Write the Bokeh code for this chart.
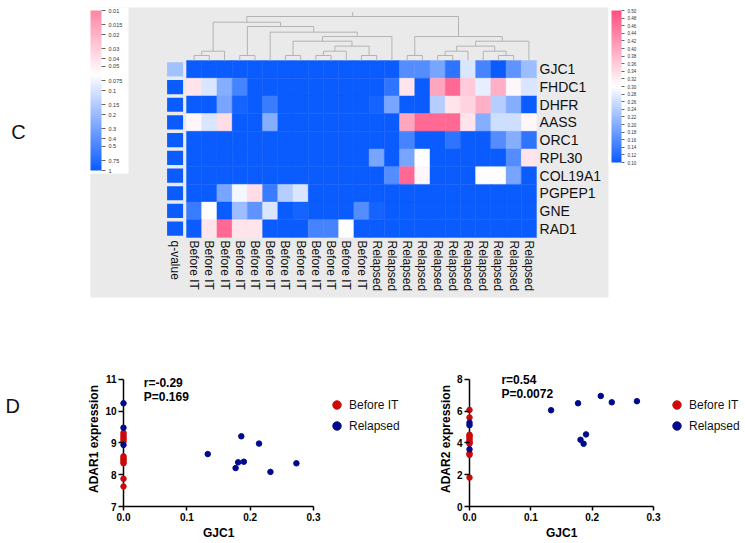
import numpy as np
from bokeh.plotting import figure
from bokeh.layouts import column, row
from bokeh.models import (Range1d, LinearColorMapper, ColorBar, FixedTicker,
                          PrintfTickFormatter, CustomJSTickFormatter, BoxAnnotation,
                          Label, Legend, LegendItem, ColumnDataSource, AllLabels)
from bokeh.core.properties import value
from bokeh.embed import file_html
from bokeh.resources import INLINE

FONT = "Liberation Sans"

# ---------------- data: heatmap (C) ----------------
genes = ["GJC1", "FHDC1", "DHFR", "AASS", "ORC1", "RPL30", "COL19A1", "PGPEP1", "GNE", "RAD1"]
samples = ["Before IT"] * 12 + ["Relapsed"] * 11
q_values = [0.18, 1, 1, 1, 1, 1, 1, 1, 1, 1]
row_gjc1    = [0.10, 0.10, 0.10, 0.10, 0.10, 0.10, 0.10, 0.10, 0.10, 0.10, 0.10, 0.10, 0.10, 0.10, 0.16, 0.16, 0.19, 0.13, 0.27, 0.15, 0.10, 0.17, 0.22]
row_fhdc1   = [0.33, 0.27, 0.20, 0.15, 0.10, 0.10, 0.10, 0.10, 0.10, 0.10, 0.10, 0.10, 0.10, 0.13, 0.33, 0.10, 0.40, 0.47, 0.36, 0.28, 0.39, 0.31, 0.27]
row_dhfr    = [0.10, 0.10, 0.19, 0.11, 0.10, 0.14, 0.10, 0.10, 0.10, 0.10, 0.10, 0.10, 0.11, 0.19, 0.10, 0.10, 0.24, 0.33, 0.35, 0.39, 0.24, 0.20, 0.10]
row_aass    = [0.31, 0.27, 0.34, 0.10, 0.10, 0.20, 0.10, 0.10, 0.10, 0.10, 0.10, 0.10, 0.10, 0.10, 0.40, 0.47, 0.47, 0.47, 0.33, 0.20, 0.26, 0.26, 0.31]
row_orc1    = [0.10, 0.10, 0.10, 0.10, 0.10, 0.10, 0.10, 0.10, 0.10, 0.10, 0.10, 0.10, 0.10, 0.10, 0.15, 0.10, 0.10, 0.13, 0.10, 0.10, 0.16, 0.20, 0.13]
row_rpl30   = [0.10, 0.10, 0.10, 0.10, 0.10, 0.10, 0.10, 0.10, 0.10, 0.10, 0.10, 0.10, 0.19, 0.10, 0.19, 0.30, 0.10, 0.10, 0.10, 0.10, 0.10, 0.16, 0.33]
row_col19a1 = [0.10, 0.10, 0.10, 0.10, 0.10, 0.10, 0.10, 0.10, 0.10, 0.10, 0.10, 0.10, 0.10, 0.16, 0.47, 0.31, 0.10, 0.10, 0.10, 0.30, 0.30, 0.19, 0.10]
row_pgpep1  = [0.10, 0.10, 0.19, 0.29, 0.34, 0.14, 0.24, 0.27, 0.10, 0.10, 0.10, 0.10, 0.10, 0.10, 0.10, 0.10, 0.10, 0.10, 0.10, 0.10, 0.10, 0.10, 0.10]
row_gne     = [0.14, 0.30, 0.10, 0.22, 0.17, 0.27, 0.10, 0.11, 0.10, 0.10, 0.10, 0.16, 0.11, 0.10, 0.10, 0.10, 0.10, 0.10, 0.10, 0.10, 0.10, 0.10, 0.10]
row_rad1    = [0.10, 0.33, 0.47, 0.33, 0.33, 0.10, 0.10, 0.10, 0.15, 0.15, 0.30, 0.10, 0.10, 0.10, 0.10, 0.10, 0.10, 0.10, 0.10, 0.10, 0.10, 0.10, 0.10]
heat_rows = [row_gjc1, row_fhdc1, row_dhfr, row_aass, row_orc1, row_rpl30,
             row_col19a1, row_pgpep1, row_gne, row_rad1]

# column dendrogram: (child a, child b, merge height); leaves 0..22, new clusters 23..
dendro_merges = [
    (0, 1, 1.14), (23, 2, 2.12), (3, 4, 1.14), (6, 7, 1.14), (8, 9, 1.14),
    (27, 10, 2.12), (11, 12, 1.14), (28, 29, 3.26), (26, 30, 4.39), (31, 13, 5.45),
    (5, 32, 6.44), (25, 33, 7.73), (24, 34, 8.71), (14, 15, 1.14), (16, 17, 1.14),
    (37, 18, 2.12), (20, 21, 1.14), (19, 39, 2.12), (38, 40, 3.26), (41, 22, 4.39),
    (36, 42, 5.45), (35, 43, 10.0),
]

q_ticks = [1, 0.75, 0.5, 0.4, 0.3, 0.2, 0.15, 0.1, 0.075, 0.05, 0.04, 0.03, 0.02, 0.015, 0.01]
v_ticks = [0.10, 0.12, 0.14, 0.16, 0.18, 0.20, 0.22, 0.24, 0.26, 0.28, 0.30,
           0.32, 0.34, 0.36, 0.38, 0.40, 0.42, 0.44, 0.46, 0.48, 0.50]

# ---------------- data: scatter (D) ----------------
gjc1_before = [0, 0, 0, 0, 0, 0, 0, 0, 0, 0, 0, 0]
gjc1_relapsed = [0, 0, 0, 0.133, 0.177, 0.181, 0.186, 0.190, 0.214, 0.232, 0.273]
adar1_before = [9.32, 9.25, 9.18, 9.12, 9.05, 8.58, 8.52, 8.47, 8.41, 8.36, 7.87, 7.63]
adar1_relapsed = [10.25, 9.48, 8.94, 8.65, 8.21, 8.39, 9.21, 8.41, 8.98, 8.09, 8.36]
adar2_before = [6.08, 5.60, 4.52, 4.45, 4.35, 4.22, 4.10, 4.02, 3.95, 3.35, 3.25, 1.82]
adar2_relapsed = [5.28, 5.12, 3.60, 6.06, 6.50, 4.20, 3.95, 4.54, 6.96, 6.56, 6.63]
adar1_ticks = [7, 8, 9, 10, 11]
adar2_ticks = [0, 2, 4, 6, 8]
gjc1_ticks = [0, 0.1, 0.2, 0.3]

# ---------------- colours ----------------
BLUE = "#0a5cff"
PINK = "#ff4f80"
RED = "#cc0a0a"
NAVY = "#000a8c"


def ramp(stops, n=256):
    out = []
    for i in range(n):
        t = i / (n - 1)
        for (p0, c0), (p1, c1) in zip(stops[:-1], stops[1:]):
            if p0 <= t <= p1:
                f = (t - p0) / (p1 - p0) if p1 > p0 else 0
                a = [int(c0[k:k + 2], 16) for k in (1, 3, 5)]
                b = [int(c1[k:k + 2], 16) for k in (1, 3, 5)]
                out.append("#%02x%02x%02x" % tuple(round(a[j] + (b[j] - a[j]) * f) for j in range(3)))
                break
    return out


val_mapper = LinearColorMapper(palette=ramp([(0, BLUE), (0.5, "#ffffff"), (1, PINK)]), low=0.1, high=0.5)
q_mapper = LinearColorMapper(palette=ramp([(0, BLUE), (0.6, "#ffffff"), (1, "#ff86a5")]), low=0, high=2)

# ---------------- top panel ----------------
TOP_W, TOP_H = 745, 308
n_rows, n_cols = len(genes), len(samples)
cw = (536 - 186) / n_cols          # px per column
rh = (237 - 60) / n_rows           # px per row
x0 = -0.5 - 186 / cw
y_top = -0.5 - 60 / rh
dpx = 4.4
d_top = 60 / dpx

top = figure(width=TOP_W, height=TOP_H, output_backend="svg", toolbar_location=None,
             x_range=Range1d(x0, x0 + TOP_W / cw),
             y_range=Range1d(y_top + TOP_H / rh, y_top),
             x_axis_location=None, y_axis_location=None, min_border=0,
             outline_line_color=None)
top.grid.visible = False
top.extra_y_ranges = {"dend": Range1d(d_top - TOP_H / dpx, d_top)}

top.add_layout(BoxAnnotation(left=90, right=608, bottom=TOP_H - 297, top=TOP_H - 7,
                             left_units="screen", right_units="screen",
                             bottom_units="screen", top_units="screen",
                             fill_color="#eaeaea", fill_alpha=1, line_color=None,
                             level="underlay"))

xs, ys, vs = [], [], []
for r, vals in enumerate(heat_rows):
    for c, v in enumerate(vals):
        xs.append(c); ys.append(r); vs.append(v)
hsrc = ColumnDataSource(dict(x=xs, y=ys, v=vs))
top.rect("x", "y", width=1, height=1, source=hsrc,
         fill_color={"field": "v", "transform": val_mapper},
         line_color={"field": "v", "transform": val_mapper}, line_width=0.4)

q_col = -1.25
qsrc = ColumnDataSource(dict(x=[q_col] * n_rows, y=list(range(n_rows)),
                             lq=[-np.log10(q) for q in q_values]))
top.rect("x", "y", width=1.05, height=0.8, source=qsrc,
         fill_color={"field": "lq", "transform": q_mapper}, line_color=None)

# dendrogram
pos = {i: (float(i), 0.0) for i in range(n_cols)}
sx0, sy0, sx1, sy1 = [], [], [], []
for k, (a, b, h) in enumerate(dendro_merges):
    xa, ha = pos[a]
    xb, hb = pos[b]
    sx0 += [xa, xb, xa]; sy0 += [ha, hb, h]
    sx1 += [xa, xb, xb]; sy1 += [h, h, h]
    pos[n_cols + k] = ((xa + xb) / 2, h)
rx, rhgt = pos[n_cols + len(dendro_merges) - 1]
sx0.append(rx); sy0.append(rhgt); sx1.append(rx); sy1.append(rhgt + 1.0)
top.segment(sx0, sy0, sx1, sy1, y_range_name="dend", line_color="#b3b3b3", line_width=1)

top.text(x=[n_cols - 0.5 + 0.2] * n_rows, y=list(range(n_rows)), text=genes,
         text_font=value(FONT), text_font_size="14px", text_baseline="middle",
         text_align="left", text_color="#111111")
lab_y = n_rows - 0.5 + 0.17
top.text(x=list(range(n_cols)) + [q_col], y=[lab_y] * (n_cols + 1),
         text=samples + ["q-value"], angle=-np.pi / 2,
         text_font=value(FONT), text_font_size="12px", text_baseline="middle",
         text_align="left", text_color="#111111")

top.add_layout(Label(x=18, y=TOP_H - 131, x_units="screen", y_units="screen", text="C",
                     text_font=FONT, text_font_size="20px", text_align="center",
                     text_baseline="middle", text_color="#111111"))

q_cb = ColorBar(color_mapper=q_mapper, location=(87, TOP_H - 173), width=11, height=160,
                padding=3, ticker=FixedTicker(ticks=[abs(-np.log10(t)) for t in q_ticks]),
                formatter=CustomJSTickFormatter(code="return String(+Math.pow(10, -tick).toPrecision(3));"),
                major_label_policy=AllLabels(),
                major_label_text_font_size="5.5px", major_label_text_font=FONT,
                major_label_text_color="#333333", major_tick_in=0, major_tick_out=4,
                major_tick_line_color="#666666", label_standoff=3,
                bar_line_color=None, background_fill_color="white",
                background_fill_alpha=1, border_line_color=None)
top.add_layout(q_cb)

v_cb = ColorBar(color_mapper=val_mapper, location=(608, TOP_H - 165), width=10, height=152,
                padding=3, ticker=FixedTicker(ticks=v_ticks),
                formatter=PrintfTickFormatter(format="%.2f"),
                major_label_policy=AllLabels(),
                major_label_text_font_size="4.5px", major_label_text_font=FONT,
                major_label_text_color="#333333", major_tick_in=0, major_tick_out=3,
                major_tick_line_color="#666666", label_standoff=3,
                bar_line_color=None, background_fill_color="white",
                background_fill_alpha=1, border_line_color=None)
top.add_layout(v_cb)

# ---------------- bottom row geometry ----------------
BOT_H = 543 - TOP_H
MB_TOP, MB_BOT = 63, 37
F_TOP, F_BOT = TOP_H + MB_TOP, 543 - MB_BOT      # page y of the scatter frames

# ---------------- "D" tag ----------------
D_W = 30
dfig = figure(width=D_W, height=BOT_H, output_backend="svg", toolbar_location=None,
              x_axis_location=None, y_axis_location=None, min_border=0,
              min_border_top=MB_TOP, min_border_bottom=MB_BOT,
              outline_line_color=None, x_range=Range1d(0, D_W),
              y_range=Range1d(F_BOT, F_TOP))
dfig.grid.visible = False
dfig.text(x=[5], y=[405], text=["D"], text_font=value(FONT), text_font_size="20px",
          text_baseline="middle", text_align="left", text_color="#111111")


# ---------------- scatter panels ----------------
# page-pixel layout anchors: canvas left, x=0 px, x=0.3 px, canvas right
def scatter_panel(c_left, px0, px03, c_right, y_before, y_relapsed, y_ticks, y_top_pad,
                  ylabel, rtxt, ptxt, txt_x, r_y, p_y):
    k = (px03 - px0) / 0.3                 # px per GJC1 unit
    f_left = px0 - 5
    x_lo = -5 / k
    x_hi = x_lo + (c_right - f_left) / k
    p = figure(width=c_right - c_left, height=BOT_H, output_backend="svg",
               toolbar_location=None, x_range=Range1d(x_lo, x_hi),
               y_range=Range1d(y_ticks[0], y_ticks[-1] + y_top_pad),
               min_border_left=int(round(f_left - c_left)), min_border_right=0,
               min_border_top=MB_TOP, min_border_bottom=MB_BOT, outline_line_color=None)
    p.grid.visible = False
    for ax in (p.xaxis[0], p.yaxis[0]):
        ax.axis_line_width = 1.5
        ax.axis_line_color = "black"
        ax.major_tick_line_width = 1.5
        ax.major_tick_line_color = "black"
        ax.minor_tick_line_color = None
        ax.major_label_text_font = FONT
        ax.major_label_text_font_style = "bold"
        ax.major_label_text_font_size = "10px"
        ax.major_label_text_color = "black"
        ax.axis_label_text_font = FONT
        ax.axis_label_text_font_style = "bold"
        ax.axis_label_text_font_size = "12px"
        ax.axis_label_text_color = "black"
    p.xaxis.ticker = FixedTicker(ticks=gjc1_ticks)
    p.xaxis.formatter = PrintfTickFormatter(format="%.1f")
    p.xaxis.bounds = (gjc1_ticks[0], gjc1_ticks[-1])
    p.xaxis.major_tick_in = 0
    p.xaxis.major_tick_out = 4
    p.xaxis.major_label_standoff = 2
    # x-axis title, centred under the 0 - 0.3 span of the axis (text ~31 px wide)
    p.title.text = "GJC1"
    p.title_location = "below"
    p.title.align = "left"
    p.title.offset = (px0 + px03) / 2 - 15.5 - f_left
    p.title.text_font = FONT
    p.title.text_font_style = "bold"
    p.title.text_font_size = "12px"
    p.title.text_color = "black"
    p.title.standoff = 0
    p.yaxis.ticker = FixedTicker(ticks=y_ticks)
    p.yaxis.axis_line_color = None
    p.yaxis.major_tick_in = 5
    p.yaxis.major_tick_out = 0
    p.yaxis.major_label_standoff = 2
    p.yaxis.axis_label_standoff = 1
    p.yaxis.axis_label = ylabel
    # y axis rule at GJC1 = 0
    p.segment(x0=[gjc1_ticks[0]], y0=[y_ticks[0]], x1=[gjc1_ticks[0]], y1=[y_ticks[-1]],
              line_color="black", line_width=1.5)

    rb = p.scatter(gjc1_before, y_before, size=5.5, color=RED)
    rr = p.scatter(gjc1_relapsed, y_relapsed, size=5.5, color=NAVY)
    for txt, ty in ((rtxt, r_y), (ptxt, p_y)):
        p.add_layout(Label(x=txt_x, y=ty, text=txt, text_font=FONT,
                           text_font_style="bold", text_font_size="12px",
                           text_baseline="middle", text_color="black"))
    # legend: glyph box left edge sits 12.5 px right of x=0.3
    leg = Legend(items=[LegendItem(label="Before IT", renderers=[rb]),
                        LegendItem(label="Relapsed", renderers=[rr])],
                 location=(int(round(px03 + 12.5 - f_left)), 70),
                 glyph_width=21, glyph_height=21,
                 label_height=17, spacing=-4, padding=0, margin=0,
                 label_standoff=2, label_text_font=FONT, label_text_font_size="12px",
                 label_text_color="#111111", border_line_color=None,
                 background_fill_alpha=0)
    p.add_layout(leg)
    return p


s1 = scatter_panel(D_W, 123, 313, 420, adar1_before, adar1_relapsed, adar1_ticks, 0.25,
                   "ADAR1 expression", "r=-0.29", "P=0.169", 0.032, 10.9, 10.44)
s2 = scatter_panel(420, 469, 653, 745, adar2_before, adar2_relapsed, adar2_ticks, 0.5,
                   "ADAR2 expression", "r=0.54", "P=0.0072", 0.052, 7.98, 7.10)

layout = column(top, row(dfig, s1, s2))
open("out.html", "w").write(file_html(layout, INLINE))
